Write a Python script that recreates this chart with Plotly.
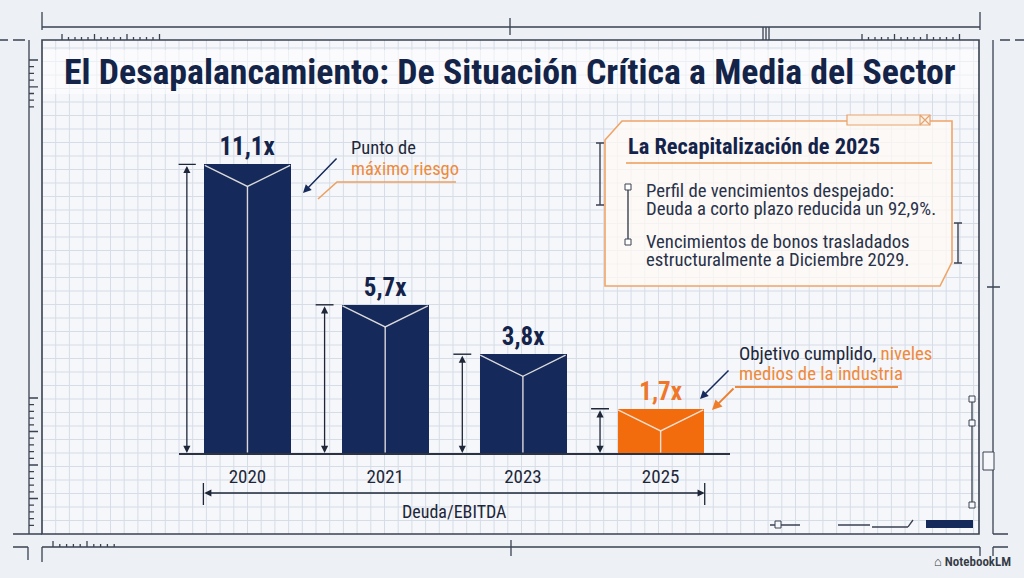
import plotly.graph_objects as go

# ---------------- data ----------------
years = ["2020", "2021", "2023", "2025"]
ratios = [11.1, 5.7, 3.8, 1.7]
value_labels = ["11,1x", "5,7x", "3,8x", "1,7x"]
bar_colors = ["#15295a", "#15295a", "#15295a", "#f26c0e"]
label_colors = ["#14234a", "#14234a", "#14234a", "#f0762a"]

title_text = "El Desapalancamiento: De Situación Crítica a Media del Sector"
box_title = "La Recapitalización de 2025"
box_lines = [
    "Perfil de vencimientos despejado:",
    "Deuda a corto plazo reducida un 92,9%.",
    "Vencimientos de bonos trasladados",
    "estructuralmente a Diciembre 2029.",
]
axis_label = "Deuda/EBITDA"

# ---------------- helpers ----------------
W, H = 1024, 578
NAVY = "#15295a"
DARK = "#1e2739"
LINE = "#3a4252"
ORANGE = "#ef8a3c"
FONT = "Roboto Condensed, Liberation Sans Narrow, Arial Narrow, Roboto, sans-serif"


def X(px):
    return px / W


def Y(py):
    return 1 - py / H


def path(points, close=False):
    s = "M " + " L ".join(f"{X(a):.5f},{Y(b):.5f}" for a, b in points)
    return s + (" Z" if close else "")


def seg_path(segs):
    return " ".join(
        f"M {X(a):.5f},{Y(b):.5f} L {X(c):.5f},{Y(d):.5f}" for (a, b, c, d) in segs
    )


shapes = []


def pshape(d, color=LINE, width=1.5, fill=None, layer="above"):
    s = dict(type="path", xref="paper", yref="paper", path=d,
             line=dict(color=color, width=width), layer=layer)
    if fill:
        s["fillcolor"] = fill
    shapes.append(s)


def prect(x0, y0, x1, y1, fill=None, color=LINE, width=1.5, layer="above"):
    shapes.append(dict(type="rect", xref="paper", yref="paper",
                       x0=X(x0), x1=X(x1), y0=Y(y1), y1=Y(y0),
                       line=dict(color=color, width=width),
                       fillcolor=fill if fill else "rgba(0,0,0,0)", layer=layer))


# ---------------- background blueprint ----------------
GX0, GX1, GY0, GY1 = 42, 979, 40, 534
prect(GX0, GY0, GX1, GY1, fill="#f5f7fa", color="rgba(0,0,0,0)", width=0, layer="below")
grid = []
gx = GX0 + 13.7
while gx < GX1:
    grid.append((gx, GY0, gx, GY1))
    gx += 13.7
gy = GY1 - 13.5
while gy > GY0:
    grid.append((GX0, gy, GX1, gy))
    gy -= 13.5
pshape(seg_path(grid), color="#d6dde7", width=1, layer="below")
# light band behind the title
prect(GX0 + 1, 50, GX1 - 1, 94, fill="rgba(255,255,255,0.55)", color="rgba(0,0,0,0)",
      width=0, layer="below")
prect(GX0, GY0, GX1, GY1, color="#3a4252", width=1.6, layer="below")

# top rulers / frame
deco = [
    (42, 12, 42, 30), (980, 12, 980, 30), (42, 27, 980, 27),
    (510, 18, 510, 35), (763, 27, 763, 40), (766, 27, 766, 40), (769, 27, 769, 40),
    (29, 40, 29, 534), (13, 534, 42, 534), (993, 40, 993, 534), (993, 534, 1008, 534),
    (0, 40, 8, 40), (13, 40, 25, 40), (1000, 40, 1010, 40), (1015, 40, 1024, 40),
    (42, 547, 980, 547), (511, 540, 511, 556),
    (13, 547, 28, 547), (28, 547, 28, 560), (42, 547, 42, 562),
    (980, 547, 980, 556), (993, 547, 1008, 547), (993, 547, 993, 556),
    (872, 527, 908, 527), (908, 527, 913, 520), (838, 525, 870, 525),
    (770, 525, 800, 525),
    (972, 399, 972, 505),
    (987, 287, 1000, 287),
]
for k in range(16):
    x = 62 + k * 6.5
    deco.append((x, 40, x, 40 - (6 if k % 5 == 0 else 3)))
    x = 862 + k * 6.5
    deco.append((x, 40, x, 40 - (6 if k % 5 == 0 else 3)))
for k in range(20):
    y = 398 + k * 6.7
    deco.append((29, y, 29 + (9 if k % 5 == 0 else 5), y))
for k in range(8):
    y = 60 + k * 6.7
    deco.append((29, y, 29 + (9 if k % 4 == 0 else 5), y))
for k in range(10):
    x = 53 + k * 6.8
    deco.append((x, 547, x, 547 - (6 if k % 5 == 0 else 3)))
pshape(seg_path(deco), color=LINE, width=1.3, layer="below")
for yy in (399, 423, 505):
    prect(969, yy - 3, 975, yy + 3, fill="#f5f7fa", color=LINE, width=1, layer="below")
prect(775, 521, 781, 528, fill="#f5f7fa", color=LINE, width=1, layer="below")
prect(926, 520, 973, 528, fill="#15295a", color="#15295a", width=0, layer="below")
prect(983, 452, 994, 470, fill="#f5f7fa", color=LINE, width=1, layer="below")

# ---------------- callout box ----------------
box_pts = [(605, 140), (622, 121), (952, 121), (952, 262), (940, 286), (605, 286)]
pshape(path(box_pts, close=True), color="#f0a468", width=1.6, fill="rgba(255,250,244,0.75)")
prect(847, 115, 930, 125, fill="#fbf4ec", color="#e7a36e", width=1.2)
pshape(seg_path([(920, 115, 930, 125), (920, 125, 930, 115), (920, 115, 920, 125)]),
       color="#e7a36e", width=1.2)
pshape(seg_path([(626, 163, 932, 163)]), color="#ec9a55", width=1.6)
pshape(seg_path([(600, 143, 600, 205), (596, 143, 604, 143), (596, 205, 604, 205),
                 (958, 223, 958, 263), (954, 223, 962, 223), (954, 263, 962, 263),
                 (628, 190, 628, 239)]),
       color="#3a4252", width=1.4)
prect(625, 184, 631, 190, fill="#ffffff", color="#3a4252", width=1)
prect(625, 239, 631, 245, fill="#ffffff", color="#3a4252", width=1)

# callout pointer decorations
pshape(path([(318, 199), (337, 182), (456, 182)]), color="#efa060", width=1.6)
pshape(path([(898, 387), (735, 387)]), color="#ef8a3c", width=1.8)

# ---------------- figure ----------------
xpos = list(range(len(years)))
BAR_W = 0.63
Y_MAX = 12.5
DEPTH = 0.85

fig = go.Figure()
fig.add_trace(go.Bar(
    x=xpos, y=ratios, width=BAR_W,
    marker=dict(color=bar_colors, line=dict(width=0)),
    text=value_labels, textposition="outside",
    textfont=dict(family=FONT, size=25, color=label_colors, weight=700),
    cliponaxis=False, hoverinfo="skip", showlegend=False,
))

for i, v in zip(xpos, ratios):
    fig.add_trace(go.Scatter(
        x=[i - BAR_W / 2 + 0.005, i, i + BAR_W / 2 - 0.005, None, i, i],
        y=[v - 0.04, v - DEPTH, v - 0.04, None, v - DEPTH, 0.02],
        mode="lines", line=dict(color="rgba(240,236,232,0.9)", width=1.4),
        hoverinfo="skip", showlegend=False,
    ))

annotations = []


def txt(x, y, text, size, color, anchor="left", weight=400, xref="paper"):
    annotations.append(dict(x=x, y=y, xref=xref, yref="paper", text=text,
                            xanchor=anchor, yanchor="middle", showarrow=False,
                            font=dict(family=FONT, size=size, color=color, weight=weight)))


DIM_OFF = 0.44
for i, v in zip(xpos, ratios):
    xd = i - DIM_OFF
    annotations.append(dict(
        x=xd, y=0, xref="x", yref="y", ax=xd, ay=v, axref="x", ayref="y",
        text="", showarrow=True, arrowhead=2, startarrowhead=2, arrowside="end+start",
        arrowsize=1.1, startarrowsize=1.1, arrowwidth=1.3, arrowcolor=DARK,
    ))
    shapes.append(dict(type="line", xref="x", yref="y", x0=xd - 0.065, x1=xd + 0.065,
                       y0=v, y1=v, line=dict(color=DARK, width=1.4)))

# bottom axis-label dimension arrow
DX0, DX1 = -0.32, 3.32
annotations.append(dict(
    x=DX1, y=Y(493), xref="x", yref="paper", ax=-502, ay=0,
    text="", showarrow=True, arrowhead=2, startarrowhead=2, arrowside="end+start",
    arrowsize=1.1, startarrowsize=1.1, arrowwidth=1.3, arrowcolor=DARK,
))
for xd in (DX0, DX1):
    shapes.append(dict(type="line", xref="x", yref="paper", x0=xd, x1=xd,
                       y0=Y(505), y1=Y(483), line=dict(color=DARK, width=1.3)))
txt((DX0 + DX1) / 2, Y(511), axis_label, 18, DARK, anchor="center", xref="x")

# title
txt(X(510), Y(72), title_text, 35.8, "#142448", anchor="center", weight=700)

# callout texts
txt(X(349), Y(148), "Punto de", 18.5, DARK)
txt(X(349), Y(169), "máximo riesgo", 18.5, ORANGE)
annotations.append(dict(x=X(303), y=Y(193), xref="paper", yref="paper", ax=35, ay=-36,
                        text="", showarrow=True, arrowhead=2, arrowsize=1.1, arrowwidth=1.5,
                        arrowcolor=NAVY))

txt(X(737), Y(354), "Objetivo cumplido, <span style='color:#ef8a3c'>niveles</span>", 18.8, DARK)
txt(X(737), Y(374), "medios de la industria", 18.8, ORANGE)
annotations.append(dict(x=X(700), y=Y(399), xref="paper", yref="paper", ax=30, ay=-30,
                        text="", showarrow=True, arrowhead=2, arrowsize=1.1, arrowwidth=1.5,
                        arrowcolor=NAVY))
annotations.append(dict(x=X(712), y=Y(410), xref="paper", yref="paper", ax=23, ay=-23,
                        text="", showarrow=True, arrowhead=2, arrowsize=1.1, arrowwidth=1.8,
                        arrowcolor="#ef7d2a"))

txt(X(626), Y(146), box_title, 22.4, "#14234a", weight=700)
for line_text, yy in zip(box_lines, [191, 209, 242, 260]):
    txt(X(644), Y(yy), line_text, 18.7, "#28324a")

txt(X(1013), Y(561), "⌂ NotebookLM", 13, "#333a45", anchor="right", weight=600)

fig.update_layout(
    width=W, height=H,
    margin=dict(l=0, r=0, t=0, b=0),
    paper_bgcolor="#edf0f4",
    plot_bgcolor="rgba(0,0,0,0)",
    showlegend=False,
    bargap=0,
    xaxis=dict(
        domain=[X(178.6), X(729.5)], range=[-0.5, 3.5],
        tickvals=xpos, ticktext=years,
        tickfont=dict(family=FONT, size=19, color=DARK),
        ticks="outside", ticklen=5, tickcolor="rgba(0,0,0,0)",
        showgrid=False, zeroline=False,
        showline=True, linecolor="#2b3242", linewidth=1.6,
        fixedrange=True,
    ),
    yaxis=dict(
        domain=[Y(453), Y(128)], range=[0, Y_MAX],
        visible=False, fixedrange=True,
    ),
    shapes=shapes,
    annotations=annotations,
)

fig.write_html("out.html")
